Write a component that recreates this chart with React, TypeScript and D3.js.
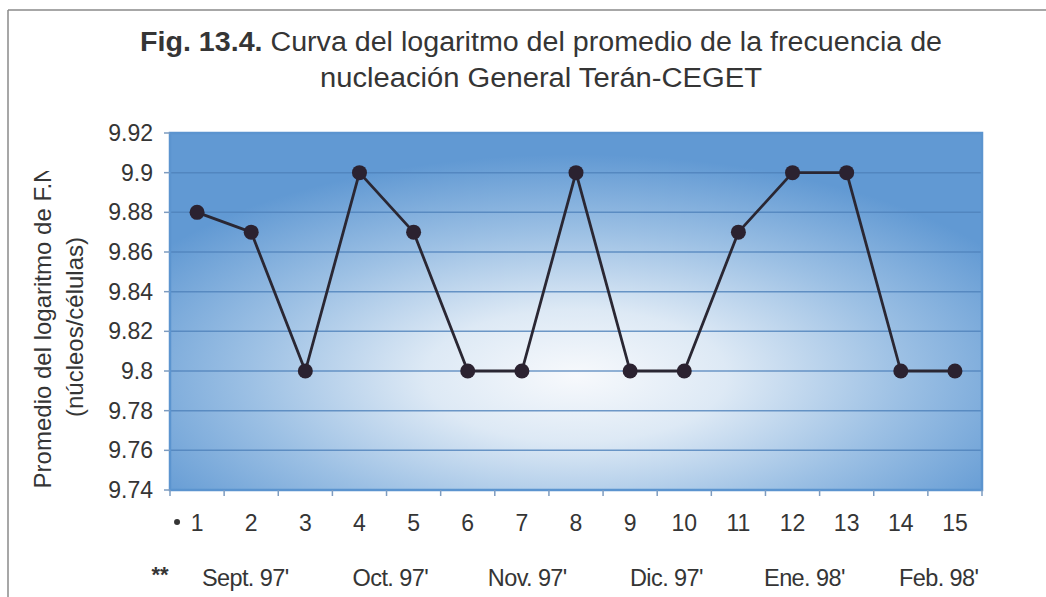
import * as d3 from 'd3'

// values
const categories = ['1', '2', '3', '4', '5', '6', '7', '8', '9', '10', '11', '12', '13', '14', '15']
const logFreq = [9.88, 9.87, 9.8, 9.9, 9.87, 9.8, 9.8, 9.9, 9.8, 9.8, 9.87, 9.9, 9.9, 9.8, 9.8]
const yTicks = [9.74, 9.76, 9.78, 9.8, 9.82, 9.84, 9.86, 9.88, 9.9, 9.92]
const months = ["Sept. 97'", "Oct. 97'", "Nov. 97'", "Dic. 97'", "Ene. 98'", "Feb. 98'"]
// month label centres, in category units from the left edge of the plot
const monthPos = [1.39, 4.07, 6.6, 9.17, 11.72, 14.2]

const W = 1046
const H = 597
const FONT = '"Liberation Sans", Arial, sans-serif'
const TEXT = '#353535'

export default function App() {
  const left = 170
  const right = 982
  const top = 133
  const bottom = 490

  const x = d3.scaleBand<string>().domain(categories).range([left, right])
  const xUnit = d3.scaleLinear().domain([0, categories.length]).range([left, right])
  const y = d3.scaleLinear().domain([9.74, 9.92]).range([bottom, top])

  const line = d3.line<number>()
    .x((_, i) => x(categories[i])! + x.bandwidth() / 2)
    .y(d => y(d))

  const midY = 327

  return (
    <svg width={W} height={H} style={{ position: 'absolute', left: 0, top: 0, background: '#fff' }}>
      <defs>
        <radialGradient id="bg" cx="50%" cy="68%" r="62%" fx="50%" fy="68%">
          <stop offset="0" stopColor="#f7f9fc" />
          <stop offset="0.3" stopColor="#dde9f5" />
          <stop offset="0.65" stopColor="#9cc0e4" />
          <stop offset="1" stopColor="#6199d3" />
        </radialGradient>
        {/* the scan cuts the first axis-title line at the top */}
        <clipPath id="ytitle">
          <rect x={0} y={171} width={120} height={400} />
        </clipPath>
      </defs>

      {/* page frame */}
      <line x1={8} x2={W} y1={10} y2={10} stroke="#8a8a8a" strokeWidth={1.5} />
      <line x1={8} x2={8} y1={10} y2={H} stroke="#8a8a8a" strokeWidth={1.5} />

      {/* title */}
      <text x={541} y={51} textAnchor="middle" fontFamily={FONT} fontSize={27} fill={TEXT}
        textLength={802} lengthAdjust="spacingAndGlyphs">
        <tspan fontWeight="bold">Fig. 13.4.</tspan> Curva del logaritmo del promedio de la frecuencia de
      </text>
      <text x={541} y={87} textAnchor="middle" fontFamily={FONT} fontSize={27} fill={TEXT}
        textLength={442} lengthAdjust="spacingAndGlyphs">
        nucleación General Terán-CEGET
      </text>

      {/* plot area */}
      <rect x={left} y={top} width={right - left} height={bottom - top} fill="url(#bg)" />
      {yTicks.slice(1, -1).map(t => (
        <line key={t} x1={left} x2={right} y1={y(t)} y2={y(t)} stroke="#4f82bb" strokeWidth={1.5} opacity={0.8} />
      ))}
      <rect x={left} y={top} width={right - left} height={bottom - top} fill="none" stroke="#5b94cf" strokeWidth={2.5} />

      {/* y axis */}
      {yTicks.map(t => (
        <g key={t}>
          <line x1={left - 6} x2={left} y1={y(t)} y2={y(t)} stroke="#7d9cc0" strokeWidth={1.5} />
          <text x={153} y={y(t) + 8} textAnchor="end" fontFamily={FONT} fontSize={23} fill={TEXT}>
            {d3.format('')(t)}
          </text>
        </g>
      ))}

      {/* x axis ticks between categories */}
      {d3.range(categories.length + 1).map(i => (
        <line key={i} x1={xUnit(i)} x2={xUnit(i)} y1={bottom} y2={bottom + 6} stroke="#7d9cc0" strokeWidth={1.5} />
      ))}
      {categories.map(c => (
        <text key={c} x={x(c)! + x.bandwidth() / 2} y={531} textAnchor="middle" fontFamily={FONT} fontSize={23} fill={TEXT}>
          {c}
        </text>
      ))}
      <circle cx={xUnit(0.13)} cy={522} r={3} fill={TEXT} />

      {/* month row */}
      <text x={160} y={582} textAnchor="middle" fontFamily={FONT} fontSize={22} fontWeight="bold" fill={TEXT}>**</text>
      {months.map((m, i) => (
        <text key={m} x={xUnit(monthPos[i])} y={586} textAnchor="middle" fontFamily={FONT} fontSize={23.5} fill={TEXT} letterSpacing={-0.6}>
          {m}
        </text>
      ))}

      {/* y axis title */}
      <g clipPath="url(#ytitle)">
        <text transform={`translate(51,${midY}) rotate(-90)`} textAnchor="middle" fontFamily={FONT} fontSize={24} fill={TEXT}>
          Promedio del logaritmo de F.N
        </text>
      </g>
      <text transform={`translate(83,${midY}) rotate(-90)`} textAnchor="middle" fontFamily={FONT} fontSize={24} fill={TEXT}>
        (núcleos/células)
      </text>

      {/* series */}
      <path d={line(logFreq) ?? ''} fill="none" stroke="#2a2733" strokeWidth={2.8} strokeLinejoin="round" />
      {logFreq.map((v, i) => (
        <circle key={i} cx={x(categories[i])! + x.bandwidth() / 2} cy={y(v)} r={7.5} fill="#2b2230" />
      ))}
    </svg>
  )
}
